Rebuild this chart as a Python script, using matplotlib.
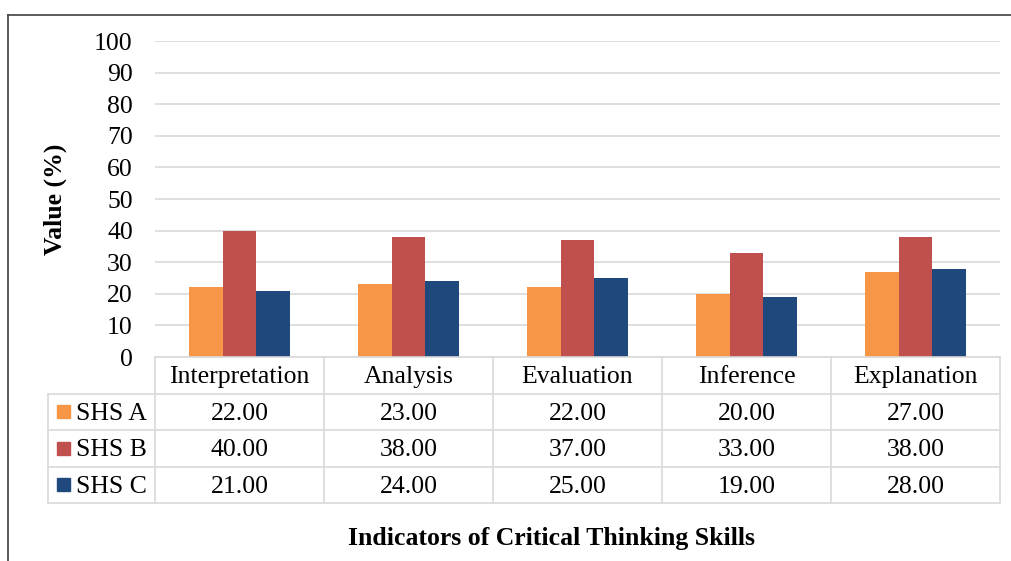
import numpy as np
import matplotlib.pyplot as plt
from matplotlib.lines import Line2D
from matplotlib.patches import Rectangle

categories = ["Interpretation", "Analysis", "Evaluation", "Inference", "Explanation"]
series_names = ["SHS A", "SHS B", "SHS C"]
shs_a = [22, 23, 22, 20, 27]
shs_b = [40, 38, 37, 33, 38]
shs_c = [21, 24, 25, 19, 28]
colors = ["#F79646", "#C0504D", "#1F497D"]

plt.rcParams['font.family'] = ['Liberation Serif', 'DejaVu Serif']
fs = 18.5

W, H = 1012, 561
fig = plt.figure(figsize=(W / 100, H / 100), dpi=100)

def box(x0, y0, x1, y1):
    # pixel box (top-left origin) -> figure fraction
    return [x0 / W, 1 - y1 / H, (x1 - x0) / W, (y1 - y0) / H]

# frame around the chart
fig.add_artist(Line2D([8 / W, 1], [1 - 15 / H, 1 - 15 / H], color="#404040", lw=1.2))
fig.add_artist(Line2D([8 / W, 8 / W], [0, 1 - 15 / H], color="#404040", lw=1.2))

grid_c = "#d9d9d9"
ax = fig.add_axes(box(155, 41, 1000, 357))
x = np.arange(len(categories))
bw = 0.2
for i, (vals, c) in enumerate(zip([shs_a, shs_b, shs_c], colors)):
    ax.bar(x + (i - 1) * bw, vals, bw, color=c, zorder=3)
ax.set_xlim(-0.5, len(categories) - 0.5)
ax.set_ylim(0, 100)
ax.set_yticks(range(0, 101, 10))
ax.set_xticks([])
ax.grid(axis="y", color=grid_c, lw=1.2, zorder=0)
for s in ax.spines.values():
    s.set_visible(False)
ax.tick_params(axis="y", length=0, labelsize=fs, pad=16)
ax.set_ylabel("Value (%)", fontsize=fs, fontweight="bold")
ax.yaxis.set_label_coords(-0.104, 0.5)

# data table below the plot
label_w = (155 - 48) / 169
tax = fig.add_axes(box(48, 357, 1000, 503))
tax.set_xlim(-0.5 - label_w, len(categories) - 0.5)
tax.set_ylim(4, 0)
tax.axis("off")
lc = dict(color=grid_c, lw=1.2, clip_on=False)
left = -0.5 - label_w
right = len(categories) - 0.5
tax.plot([-0.5, right], [0, 0], **lc)
for r in range(1, 5):
    tax.plot([left, right], [r, r], **lc)
tax.plot([left, left], [1, 4], **lc)
for c in range(len(categories) + 1):
    tax.plot([c - 0.5, c - 0.5], [0, 4], **lc)
for j, cat in enumerate(categories):
    tax.text(j, 0.55, cat, ha="center", va="center", fontsize=fs)
for i, (name, vals, col) in enumerate(zip(series_names, [shs_a, shs_b, shs_c], colors)):
    tax.add_patch(Rectangle((left + 0.055, i + 1.32), 0.078, 0.36, color=col, clip_on=False))
    tax.text(left + 0.165, i + 1.55, name, ha="left", va="center", fontsize=fs)
    for j, v in enumerate(vals):
        tax.text(j, i + 1.55, f"{v:.2f}", ha="center", va="center", fontsize=fs)

fig.text(552 / W, 1 - 538 / H, "Indicators of Critical Thinking Skills",
         ha="center", va="center", fontsize=fs, fontweight="bold")

fig.savefig("out.png", dpi=100)
